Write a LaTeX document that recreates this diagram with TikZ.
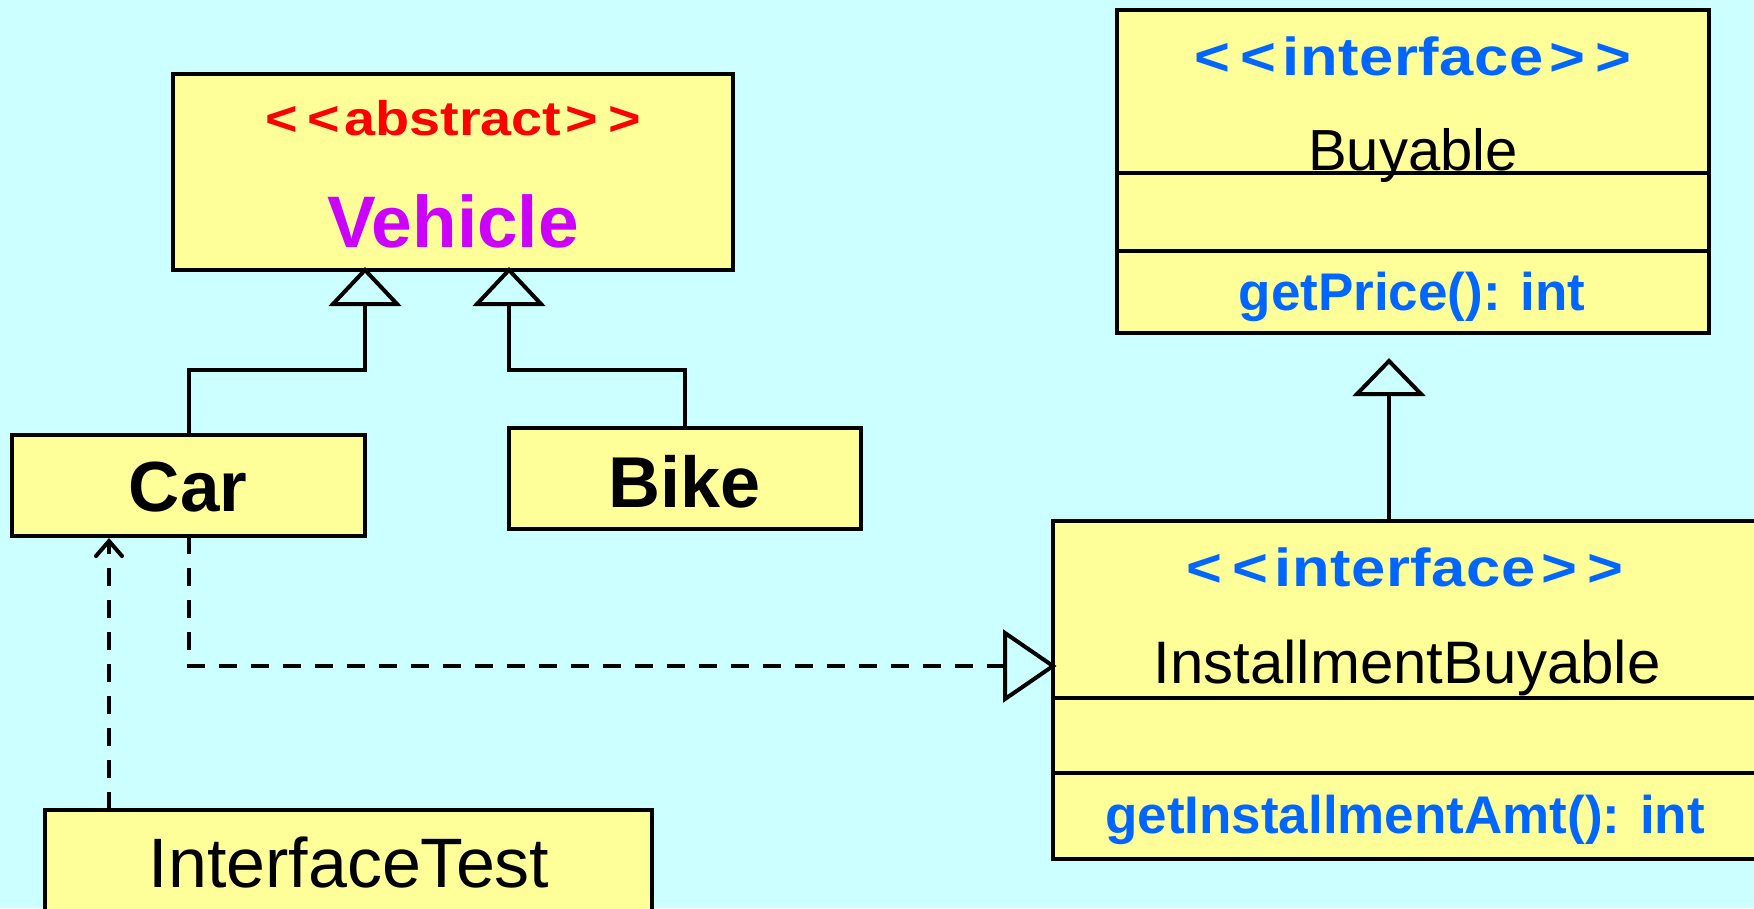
\documentclass[tikz,border=0pt]{standalone}
\usepackage{fontspec}
\setmainfont{Liberation Sans}
\newfontfamily\widesans[FakeStretch=1.15]{Liberation Sans}
\usetikzlibrary{arrows.meta}
\definecolor{bgc}{HTML}{CCFFFF}
\definecolor{boxc}{HTML}{FFFF99}
\definecolor{redc}{HTML}{FF0000}
\definecolor{magc}{HTML}{CC00FF}
\definecolor{bluec}{HTML}{0066FF}
\makeatletter
\def\spreadtext#1#2{\def\sp@k{\kern#1}\spread@i#2\relax}
\def\spread@i#1{\ifx#1\relax\unkern\else#1\sp@k\expandafter\spread@i\fi}
\makeatother
\newcommand\fsz[1]{\fontsize{#1}{#1}\selectfont}
% stereotype: #1 bracket gap, #2 bracket-word gap, #3 inner spacing, #4 word
\newcommand\stereo[4]{<\kern#1<\kern#2\spreadtext{#3}{#4}\kern#2>\kern#1>}
\begin{document}
\begin{tikzpicture}[x=1pt,y=-1pt,
  umlbox/.style={draw=black, fill=boxc, line width=4.5pt, inner sep=0pt, outer sep=0pt, anchor=north west},
  conn/.style={draw=black, line width=4pt},
  divider/.style={draw=black, line width=4.5pt},
  dashconn/.style={conn, dash pattern=on 18pt off 14pt},
  gentri/.style={draw=black, fill=bgc, line width=4pt, line join=miter},
  lbl/.style={anchor=base, inner sep=0pt, outer sep=0pt}]
\useasboundingbox (0,0) rectangle (1754,908);
\fill[bgc] (0,0) rectangle (1754,908);
\clip (0,0) rectangle (1754,908);

% boxes
\node[umlbox, minimum width=560pt, minimum height=196pt] (veh) at (173,74) {};
\node[umlbox, minimum width=353pt, minimum height=101pt] (car) at (12,435) {};
\node[umlbox, minimum width=352pt, minimum height=101pt] (bike) at (509,428) {};
\node[umlbox, minimum width=607pt, minimum height=140pt] (itest) at (45,810) {};
\node[umlbox, minimum width=592pt, minimum height=323pt] (buy) at (1117,10) {};
\node[umlbox, minimum width=710pt, minimum height=338pt] (ib) at (1053,521) {};

% texts
\node[lbl, text=redc] (absT) at (453,135) {\widesans\fsz{48.5}\bfseries\stereo{10pt}{4pt}{0pt}{abstract}};
\node[lbl, text=magc] (vehT) at (453,247) {\fsz{73}\bfseries Vehicle};
\node[lbl] (carT) at (188,511) {\fsz{71}\bfseries Car};
\node[lbl] (bikeT) at (685,507) {\fsz{72}\bfseries Bike};
\node[lbl] (itT) at (349,887) {\fsz{70}InterfaceTest};
\node[lbl, text=bluec] (buyS) at (1413,75) {\widesans\fsz{53.5}\bfseries\stereo{10pt}{6pt}{0.6pt}{interface}};
\node[lbl] (buyT) at (1413,170) {\fsz{58}Buyable};
\node[lbl, text=bluec] (buyM) at (1412,310) {\fsz{53}\bfseries getPrice(): int};
\node[lbl, text=bluec] (ibS) at (1405,586) {\widesans\fsz{53.5}\bfseries\stereo{10pt}{6pt}{0.6pt}{interface}};
\node[lbl] (ibT) at (1407,683) {\fsz{60}InstallmentBuyable};
\node[lbl, text=bluec] (ibM) at (1405,833) {\fsz{53}\bfseries getInstallmentAmt(): int};

% compartment dividers
\draw[divider] (buy.west |- 0,173) -- (buy.east |- 0,173);
\draw[divider] (buy.west |- 0,251) -- (buy.east |- 0,251);
\draw[divider] (ib.west |- 0,698) -- (ib.east |- 0,698);
\draw[divider] (ib.west |- 0,773) -- (ib.east |- 0,773);

% generalization Car, Bike -> Vehicle
\coordinate (triL) at (365,306);
\coordinate (triR) at (509,306);
\draw[conn] (car.north) |- (365,370) -- (triL);
\draw[conn] (bike.north) |- (509,370) -- (triR);
\draw[gentri] (veh.south -| triL) -- ++(-32,34) -- ++(64,0) -- cycle;
\draw[gentri] (veh.south -| triR) -- ++(-32,34) -- ++(64,0) -- cycle;

% generalization InstallmentBuyable -> Buyable
\coordinate (triB) at (1389,394);
\draw[conn] (ib.north -| triB) -- (triB);
\draw[gentri] (1389,361) -- ++(-32,33) -- ++(64,0) -- cycle;

% realization Car -> InstallmentBuyable
\coordinate (realB) at (1005,666);
\draw[dashconn] (car.south) |- (realB);
\draw[gentri] (ib.west |- realB) -- (1005,633) -- (1005,699) -- cycle;

% dependency InterfaceTest -> Car
\coordinate (depX) at (109,0);
\draw[dashconn, -{Straight Barb[length=15pt,width=26pt,line width=4pt,line cap=round]}, shorten >=2pt] (itest.north -| depX) -- (car.south -| depX);
\end{tikzpicture}
\end{document}
